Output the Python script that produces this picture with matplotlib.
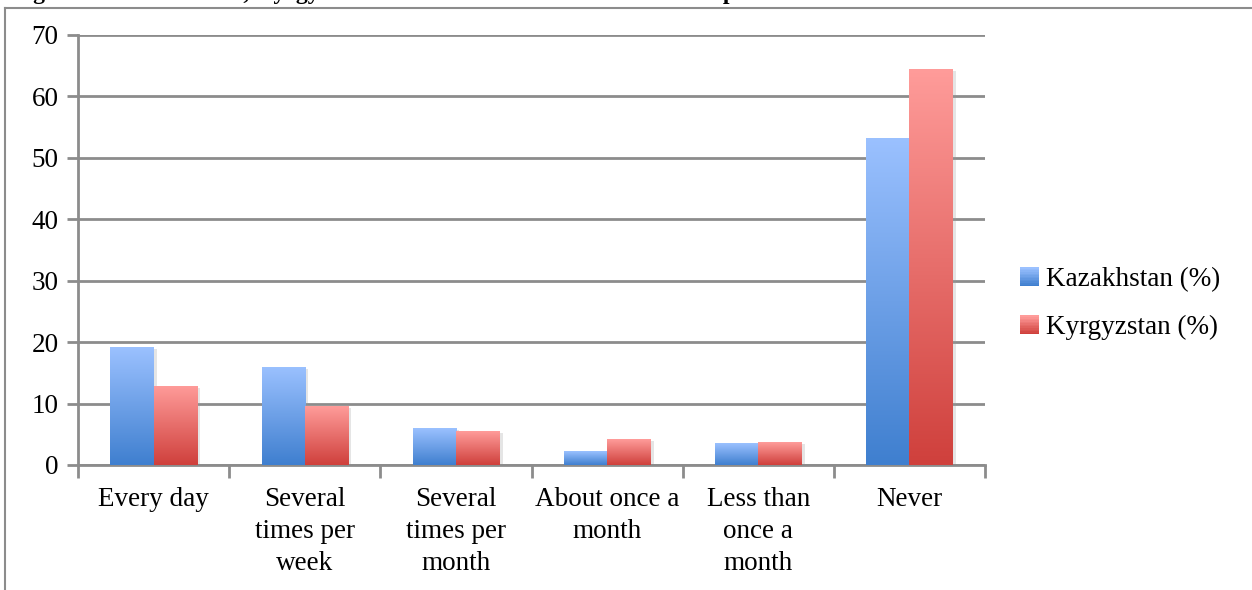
import numpy as np
import matplotlib.pyplot as plt
from matplotlib.colors import LinearSegmentedColormap
from matplotlib.lines import Line2D
from matplotlib.patches import Rectangle
from matplotlib.legend_handler import HandlerBase
import matplotlib.patheffects as pe

# Datos (%)
categorias = ["Every day", "Several\ntimes per\nweek", "Several\ntimes per\nmonth",
              "About once a\nmonth", "Less than\nonce a\nmonth", "Never"]
kazakhstan = [19.2, 16.0, 6.0, 2.2, 3.5, 53.3]
kyrgyzstan = [12.9, 9.6, 5.5, 4.2, 3.7, 64.5]
series = ["Kazakhstan (%)", "Kyrgyzstan (%)"]

plt.rcParams['font.family'] = ['Liberation Serif', 'DejaVu Serif']

gris = "#8c8c8c"
azul = LinearSegmentedColormap.from_list("azul", ["#3f7fcf", "#9bc1ff"])
rojo = LinearSegmentedColormap.from_list("rojo", ["#cf403c", "#ff9c9a"])

fig = plt.figure(figsize=(12.52, 5.9), dpi=100)
ax = fig.add_axes([0.0623, 0.2119, 0.7245, 0.7288])

x = np.arange(len(categorias))
ancho = 1 / 3.5
grad = np.linspace(0, 1, 256).reshape(-1, 1)

def barras_degradado(pos, valores, cmap):
    barras = ax.bar(pos, valores, ancho, color="white", zorder=2,
                    path_effects=[pe.SimplePatchShadow(offset=(2.5, -1.5), shadow_rgbFace="#999999",
                                                       alpha=0.25),
                                  pe.Normal()])
    for b in barras:
        x0, y0 = b.get_x(), b.get_y()
        w, h = b.get_width(), b.get_height()
        im = ax.imshow(grad, cmap=cmap, origin="lower", aspect="auto",
                       extent=[x0, x0 + w, y0, y0 + h], zorder=3)
        im.set_clip_path(b)
    return barras

barras_degradado(x - ancho / 2, kazakhstan, azul)
barras_degradado(x + ancho / 2, kyrgyzstan, rojo)

ax.set_xlim(-0.5, len(categorias) - 0.5)
ax.set_ylim(0, 70)
ax.set_yticks(range(0, 71, 10))
ax.yaxis.grid(True, color=gris, linewidth=2)
ax.set_axisbelow(True)

ax.set_xticks(x)
ax.set_xticklabels(categorias, fontsize=19.5, linespacing=1.36)
ax.set_xticks(np.arange(-0.5, len(categorias)), minor=True)
ax.tick_params(axis="x", which="major", length=0, pad=16)
ax.tick_params(axis="x", which="minor", length=9, width=2, color=gris)
ax.tick_params(axis="y", length=8, width=2, color=gris, labelsize=19.5, pad=6)

for lado in ["top", "right"]:
    ax.spines[lado].set_visible(False)
for lado in ["left", "bottom"]:
    ax.spines[lado].set_color(gris)
    ax.spines[lado].set_linewidth(2)

# Cuadro de leyenda en degradado
class HandlerDegradado(HandlerBase):
    def __init__(self, cmap):
        super().__init__()
        self.cmap = cmap

    def create_artists(self, legend, orig_handle, xdescent, ydescent,
                       width, height, fontsize, trans):
        n = 12
        lado = min(width, height)
        tiras = []
        for i in range(n):
            tiras.append(Rectangle((-xdescent, -ydescent + lado * i / n), lado, lado / n + 0.3,
                                   facecolor=self.cmap(i / (n - 1)), edgecolor="none",
                                   transform=trans))
        return tiras

manejadores = [Rectangle((0, 0), 1, 1), Rectangle((0, 0), 1, 1)]
leg = ax.legend(manejadores, series, loc="center left", bbox_to_anchor=(1.012, 0.375),
                frameon=False, fontsize=19.5, handlelength=0.7, handleheight=0.7,
                handletextpad=0.25, labelspacing=0.85,
                handler_map={manejadores[0]: HandlerDegradado(azul),
                             manejadores[1]: HandlerDegradado(rojo)})

# Marco y título (recortado arriba)
fig.add_artist(Line2D([5 / 1252, 5 / 1252], [0, 1 - 8 / 590], color=gris, linewidth=1.5))
fig.add_artist(Line2D([5 / 1252, 1], [1 - 8 / 590, 1 - 8 / 590], color=gris, linewidth=1.5))
fig.text(12 / 1252, 1 + 1 / 590,
         "Figure 10: Kazakhstan, Kyrgyzstan \u2013 Attendance at communal worship services",
         fontsize=17, fontweight="bold", va="baseline", ha="left")

fig.savefig("out.png", dpi=100)
